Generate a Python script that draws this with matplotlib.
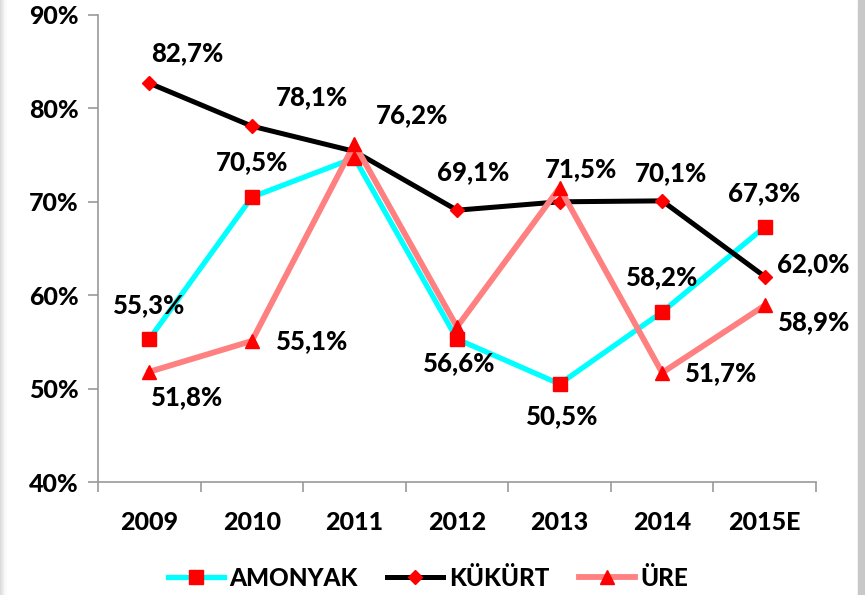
import matplotlib
matplotlib.use("Agg")
import matplotlib.pyplot as plt
from matplotlib.patches import Rectangle
import numpy as np

years = ["2009", "2010", "2011", "2012", "2013", "2014", "2015E"]
amonyak = [55.3, 70.5, 74.7, 55.3, 50.5, 58.2, 67.3]
kukurt = [82.7, 78.1, 75.4, 69.1, 70.0, 70.1, 62.0]
ure = [51.8, 55.1, 76.2, 56.6, 71.5, 51.7, 58.9]
yticks = [40, 50, 60, 70, 80, 90]

# label offsets in pixels (dx, dy up)
amonyak_lbl = {0: (0, 34), 1: (0, 35), 4: (3, -32), 5: (0, 35), 6: (-1, 34)}
kukurt_lbl = {0: (38, 30), 1: (60, 29), 3: (16, 38), 5: (9, 28), 6: (49, 12)}
ure_lbl = {0: (38, -25), 1: (60, 0), 2: (58, 29), 3: (2, -36), 4: (21, 19), 5: (59, 0), 6: (49, -17)}

FONT = "Lato"
WEIGHT = 900
W, H, DPI = 865, 595, 100
fig = plt.figure(figsize=(W / DPI, H / DPI), dpi=DPI)
fig.patch.set_facecolor("white")
ax = fig.add_axes([98 / W, 1 - 482 / H, (816 - 98) / W, (482 - 15) / H])

x = np.arange(len(years))
ax.plot(x, amonyak, color="#00FFFF", lw=3.8, marker="s", ms=10, mfc="red", mec="red",
        label="AMONYAK", zorder=3)
ax.plot(x, kukurt, color="black", lw=3.6, marker="D", ms=7.5, mfc="red", mec="red",
        label="KÜKÜRT", zorder=4)
ax.plot(x, ure, color="#FF8080", lw=4.2, marker="^", ms=10.5, mfc="red", mec="red",
        label="ÜRE", zorder=5)

ax.set_xlim(-0.5, len(years) - 0.5)
ax.set_ylim(40, 90)
ax.set_yticks(yticks)
ax.set_yticklabels([f"{v}%" for v in yticks], fontfamily=FONT, fontweight=WEIGHT, fontsize=18)
ax.set_xticks(x)
ax.set_xticklabels(years, fontfamily=FONT, fontweight=WEIGHT, fontsize=18)
ax.set_xticks(np.arange(len(years) + 1) - 0.5, minor=True)
ax.tick_params(axis="x", which="major", length=0, pad=21)
ax.tick_params(axis="x", which="minor", length=7, color="#999999", width=1.2, direction="out")
ax.tick_params(axis="y", length=7, color="#999999", width=1.2, pad=7)
for s in ["top", "right"]:
    ax.spines[s].set_visible(False)
for s in ["left", "bottom"]:
    ax.spines[s].set_color("#999999")
    ax.spines[s].set_linewidth(1.2)

def lab(vals, d):
    for i, (dx, dy) in d.items():
        ax.annotate(f"{vals[i]:.1f}%".replace(".", ","), (x[i], vals[i]),
                    xytext=(dx * 72 / DPI, dy * 72 / DPI), textcoords="offset points",
                    ha="center", va="center", fontfamily=FONT, fontweight=WEIGHT,
                    fontsize=18.5, color="black", zorder=6)

lab(amonyak, amonyak_lbl)
lab(kukurt, kukurt_lbl)
lab(ure, ure_lbl)

leg = fig.legend(loc="center", bbox_to_anchor=(428 / W, 1 - 578 / H), ncol=3, frameon=False,
                 prop={"family": FONT, "weight": WEIGHT, "size": 17.5}, handlelength=2.3,
                 columnspacing=1.2, handletextpad=0.25)

# side borders
fig.patches.append(Rectangle((858 / W, 0), 7 / W, 1, transform=fig.transFigure,
                             color="#c8c8c8", zorder=0))
for k in range(6):
    fig.patches.append(Rectangle((k / W, 0), 1 / W, 1, transform=fig.transFigure,
                                 color=str(0.86 + k * 0.025), zorder=0))

fig.savefig("out.png", dpi=DPI)
